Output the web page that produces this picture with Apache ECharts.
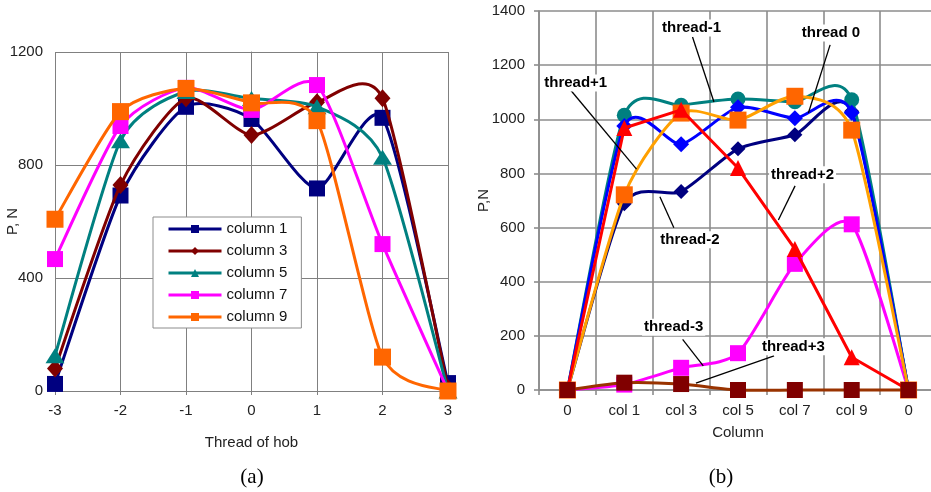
<!DOCTYPE html>
<html>
<head>
<meta charset="utf-8">
<script src="https://cdn.jsdelivr.net/npm/echarts@6/dist/echarts.min.js"></script>
<style>
  html, body { margin: 0; padding: 0; background: #fff; }
  #chart { width: 931px; height: 492px; }
</style>
</head>
<body>
<div id="chart"></div>
<script>
// ---- (a) cutting force P against hob thread, one curve per column ----
const threads = [-3, -2, -1, 0, 1, 2, 3];
const column1 = [25, 692, 1006, 963, 717, 967, 28];
const column3 = [80, 729, 1036, 906, 1022, 1036, 10];
const column5 = [125, 886, 1060, 1035, 1006, 827, 0];
const column7 = [467, 938, 1073, 995, 1083, 520, 0];
const column9 = [608, 989, 1071, 1020, 957, 120, 0];
const forceTicksA = [0, 400, 800, 1200];

// ---- (b) cutting force P along the columns, one curve per thread ----
const columns = ['0', 'col 1', 'col 3', 'col 5', 'col 7', 'col 9', '0'];
const threadMinus3 = [0, 20, 82, 136, 466, 612, 0];
const threadMinus2 = [0, 688, 733, 891, 943, 1030, 0];
const threadMinus1 = [0, 1015, 1052, 1075, 1065, 1072, 0];
const thread0 = [0, 975, 908, 1044, 1004, 1024, 0];
const threadPlus1 = [0, 721, 1023, 997, 1085, 960, 0];
const threadPlus2 = [0, 968, 1035, 820, 521, 121, 0];
const threadPlus3 = [0, 27, 22, 0, 0, 0, 0];
const forceTicksB = [0, 200, 400, 600, 800, 1000, 1200, 1400];

const FONT = '"Liberation Sans", Arial, sans-serif';
const colIdx = columns.map((c, i) => i);
const SMOOTH = 0.115;

// Smoothed polyline drawn as cubic segments between the data points.
function curveSeries(xs, ys, axis, color, width, tension, z) {
  const n = ys.length;
  const pick = k => Math.max(0, Math.min(n - 1, k));
  return {
    type: 'custom', xAxisIndex: axis, yAxisIndex: axis, z: z, silent: true, animation: false,
    data: ys.map((v, i) => [xs[i], v]),
    renderItem: function (params, api) {
      const i = params.dataIndex;
      if (i >= n - 1) return null;
      const pt = k => api.coord([xs[pick(k)], ys[pick(k)]]);
      const p0 = pt(i - 1), p1 = pt(i), p2 = pt(i + 1), p3 = pt(i + 2);
      return {
        type: 'bezierCurve',
        shape: {
          x1: p1[0], y1: p1[1], x2: p2[0], y2: p2[1],
          cpx1: p1[0] + (p2[0] - p0[0]) * tension, cpy1: p1[1] + (p2[1] - p0[1]) * tension,
          cpx2: p2[0] - (p3[0] - p1[0]) * tension, cpy2: p2[1] - (p3[1] - p1[1]) * tension
        },
        style: { stroke: color, lineWidth: width, fill: null, lineCap: 'round' }
      };
    }
  };
}

// Marker-only line series (its line is hidden, the legend shows line + symbol).
function markerSeries(name, xs, ys, axis, st, z) {
  return {
    type: 'line', name: name, xAxisIndex: axis, yAxisIndex: axis, z: z, silent: true, animation: false,
    data: ys.map((v, i) => [xs[i], v]),
    symbol: st.symbol, symbolSize: st.size, showAllSymbol: true, symbolKeepAspect: false,
    itemStyle: { color: st.marker || st.color, opacity: 1, borderWidth: 0 },
    lineStyle: { color: st.color, width: 3, opacity: 0 }
  };
}

const styleA = [
  { name: 'column 1', values: column1, color: '#000080', symbol: 'rect', size: 16 },
  { name: 'column 3', values: column3, color: '#800000', symbol: 'diamond', size: [16, 18] },
  { name: 'column 5', values: column5, color: '#008080', symbol: 'triangle', size: [19, 15] },
  { name: 'column 7', values: column7, color: '#ff00ff', symbol: 'rect', size: 16 },
  { name: 'column 9', values: column9, color: '#ff6600', symbol: 'rect', size: 17 }
];

const styleB = [
  { name: 'thread-3', values: threadMinus3, color: '#ff00ff', symbol: 'rect', size: 16, tension: SMOOTH },
  { name: 'thread-2', values: threadMinus2, color: '#000080', symbol: 'diamond', size: 15, tension: SMOOTH },
  { name: 'thread-1', values: threadMinus1, color: '#008080', symbol: 'circle', size: 15, tension: SMOOTH },
  { name: 'thread 0', values: thread0, color: '#0000ff', symbol: 'diamond', size: 16, tension: SMOOTH },
  { name: 'thread+1', values: threadPlus1, color: '#ffa000', marker: '#ff6600', symbol: 'rect', size: 17, tension: SMOOTH },
  { name: 'thread+2', values: threadPlus2, color: '#ff0000', symbol: 'triangle', size: 16, tension: 0 },
  { name: 'thread+3', values: threadPlus3, color: '#993300', marker: '#800000', symbol: 'rect', size: 16, tension: SMOOTH }
];

// Callout labels on (b): positions in (category index, force) units.
const notes = [
  { text: 'thread-1', at: [2.184, 1337], from: [2.20, 1304], to: [2.577, 1064] },
  { text: 'thread 0', at: [4.635, 1319], from: [4.62, 1275], to: [4.238, 1023] },
  { text: 'thread+1', at: [0.146, 1134], from: [0.04, 1112], to: [1.215, 816] },
  { text: 'thread-2', at: [2.154, 555], from: [1.872, 599], to: [1.626, 714] },
  { text: 'thread+2', at: [4.136, 795], from: [4.004, 754], to: [3.71, 628] },
  { text: 'thread-3', at: [1.869, 232], from: [2.026, 187], to: [2.389, 89] },
  { text: 'thread+3', at: [3.974, 160], from: [3.634, 126], to: [2.26, 25] }
];

const series = [];
styleA.forEach((s, k) => {
  series.push(curveSeries(threads, s.values, 0, s.color, 3, SMOOTH, 2 + k * 2));
  series.push(markerSeries(s.name, threads, s.values, 0, s, 3 + k * 2));
});
styleB.forEach((s, k) => {
  series.push(curveSeries(colIdx, s.values, 1, s.color, 3, s.tension, 2 + k * 2));
  series.push(markerSeries(s.name, colIdx, s.values, 1, s, 3 + k * 2));
});

const gridLineA = { lineStyle: { color: '#808080', width: 1 } };
const gridLineB = { lineStyle: { color: '#8c8c8c', width: 1.6 } };
const labelStyle = { color: '#222', fontSize: 15, fontFamily: FONT };
const plain = v => String(v);

const chart = echarts.init(document.getElementById('chart'), null, { renderer: 'canvas' });
chart.setOption({
  animation: false,
  backgroundColor: '#fff',
  textStyle: { fontFamily: FONT },
  grid: [
    { left: 55, top: 52, width: 393, height: 339, outerBoundsMode: 'none', containLabel: false },
    { left: 539, top: 11, width: 398, height: 379, outerBoundsMode: 'none', containLabel: false }
  ],
  xAxis: [
    {
      gridIndex: 0, type: 'value', min: threads[0], max: threads[threads.length - 1], interval: 1,
      axisLine: { show: true, lineStyle: { color: '#808080', width: 1 } },
      axisTick: { show: true, length: 4, lineStyle: { color: '#808080' } },
      axisLabel: Object.assign({ margin: 12, formatter: plain }, labelStyle),
      splitLine: Object.assign({ show: true }, gridLineA),
      name: 'Thread of hob', nameLocation: 'middle', nameGap: 44, nameMoveOverlap: false,
      nameTextStyle: labelStyle
    },
    {
      gridIndex: 1, type: 'category', data: columns, boundaryGap: true,
      axisLine: { show: true, lineStyle: { color: '#8c8c8c', width: 1.6 } },
      axisTick: { show: true, length: 5, interval: 0, lineStyle: { color: '#8c8c8c', width: 1.6 } },
      axisLabel: Object.assign({ margin: 13, interval: 0 }, labelStyle),
      splitLine: Object.assign({ show: true, interval: 0 }, gridLineB),
      name: 'Column', nameLocation: 'middle', nameGap: 35, nameMoveOverlap: false,
      nameTextStyle: labelStyle
    }
  ],
  yAxis: [
    {
      gridIndex: 0, type: 'value', min: forceTicksA[0], max: forceTicksA[forceTicksA.length - 1],
      interval: forceTicksA[1] - forceTicksA[0],
      axisLine: { show: true, lineStyle: { color: '#808080', width: 1 } },
      axisTick: { show: true, length: 4, lineStyle: { color: '#808080' } },
      axisLabel: Object.assign({ margin: 12, formatter: plain }, labelStyle),
      splitLine: Object.assign({ show: true }, gridLineA),
      name: 'P, N', nameLocation: 'middle', nameGap: 35, nameRotate: 90, nameMoveOverlap: false,
      nameTextStyle: labelStyle
    },
    {
      gridIndex: 1, type: 'value', min: forceTicksB[0], max: forceTicksB[forceTicksB.length - 1],
      interval: forceTicksB[1] - forceTicksB[0],
      axisLine: { show: true, lineStyle: { color: '#8c8c8c', width: 1.6 } },
      axisTick: { show: true, length: 5, lineStyle: { color: '#8c8c8c', width: 1.6 } },
      axisLabel: Object.assign({ margin: 14, formatter: plain }, labelStyle),
      splitLine: Object.assign({ show: true }, gridLineB),
      name: 'P,N', nameLocation: 'middle', nameGap: 48, nameRotate: 90, nameMoveOverlap: false,
      nameTextStyle: labelStyle
    }
  ],
  legend: {
    data: styleA.map(s => s.name),
    orient: 'vertical', left: 153, top: 217, z: 50,
    padding: [4, 14, 3, 14], itemGap: 6, itemWidth: 53, itemHeight: 10,
    selectedMode: false, backgroundColor: '#fff', borderColor: '#8c8c8c', borderWidth: 1,
    lineStyle: { width: 3, opacity: 1 },
    textStyle: { color: '#111', fontSize: 15, fontFamily: FONT, lineHeight: 16, padding: [0, 0, 0, 0] }
  },
  series: series
});

// Callouts and panel captions.
function toPx(i, v) {
  const i0 = Math.floor(i), i1 = Math.min(i0 + 1, columns.length - 1);
  const a = chart.convertToPixel({ gridIndex: 1 }, [i0, v]);
  const b = chart.convertToPixel({ gridIndex: 1 }, [i1, v]);
  return [a[0] + (b[0] - a[0]) * (i - i0), a[1]];
}
const graphics = [];
notes.forEach(nt => {
  const f = toPx(nt.from[0], nt.from[1]);
  const t = toPx(nt.to[0], nt.to[1]);
  const a = toPx(nt.at[0], nt.at[1]);
  graphics.push({
    type: 'line', z: 90, silent: true,
    shape: { x1: f[0], y1: f[1], x2: t[0], y2: t[1] },
    style: { stroke: '#000', lineWidth: 1.3 }
  });
  graphics.push({
    type: 'text', z: 95, silent: true, x: a[0], y: a[1],
    style: {
      text: nt.text, font: 'bold 15px ' + FONT, fill: '#000',
      align: 'center', verticalAlign: 'middle', backgroundColor: '#fff', padding: [1, 2]
    }
  });
});
graphics.push({
  type: 'text', z: 95, silent: true, x: 252, y: 477,
  style: { text: '(a)', font: '21px "Liberation Serif", "Times New Roman", serif', fill: '#000', align: 'center', verticalAlign: 'middle' }
});
graphics.push({
  type: 'text', z: 95, silent: true, x: 721, y: 477,
  style: { text: '(b)', font: '21px "Liberation Serif", "Times New Roman", serif', fill: '#000', align: 'center', verticalAlign: 'middle' }
});
chart.setOption({ graphic: graphics });
</script>
</body>
</html>
